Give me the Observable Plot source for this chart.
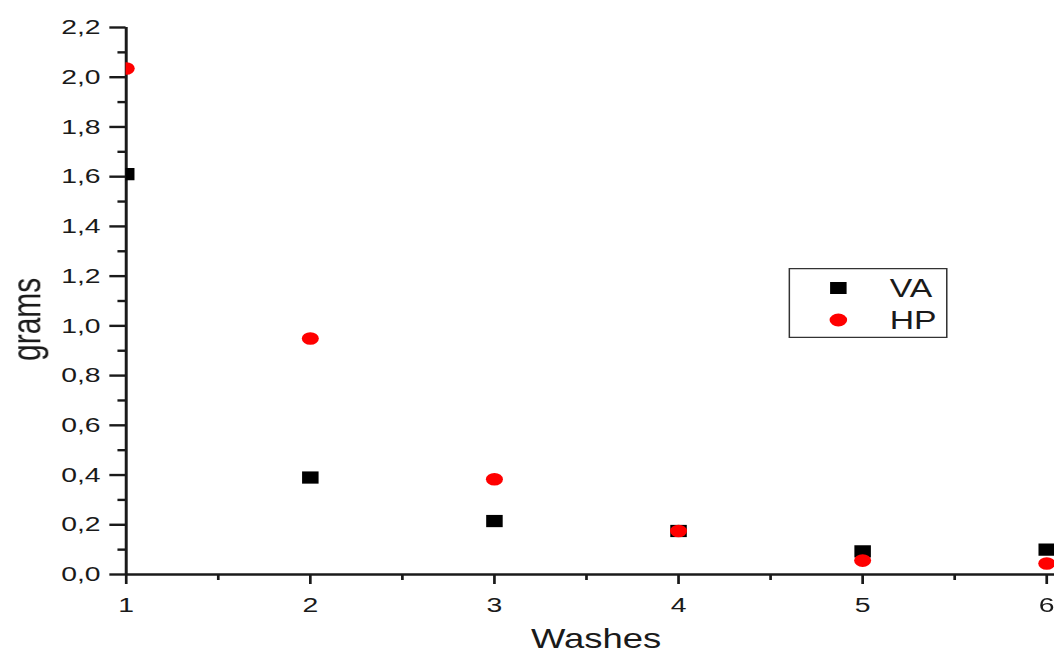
<!DOCTYPE html>
<html>
<head>
<meta charset="utf-8">
<script src="https://cdn.jsdelivr.net/npm/d3@7"></script>
<script src="https://cdn.jsdelivr.net/npm/@observablehq/plot@0.6"></script>
<style>
  html, body { margin: 0; padding: 0; background: #fff; overflow: hidden; }
  /* the chart is drawn narrow and widened, giving the oval markers and wide lettering */
  #wrap { position: relative; width: 781px; height: 657px; transform: scaleX(1.35); transform-origin: 0 0; }
  #legend { position: absolute; left: 584px; top: 268px; }
</style>
</head>
<body>
<div id="wrap"><div id="chart"></div><svg id="legend" width="118" height="70"></svg></div>
<script>
// Mass removed per wash (grams)
const washes = [1, 2, 3, 4, 5, 6];
const vaGrams = [1.61, 0.39, 0.215, 0.175, 0.093, 0.10];
const hpGrams = [2.035, 0.949, 0.383, 0.175, 0.056, 0.044];

const seriesNames = ["VA", "HP"];
const seriesColors = ["#000000", "#ff0000"];
const seriesSymbols = ["square", "circle"];

const yTicks = [0, 0.2, 0.4, 0.6, 0.8, 1.0, 1.2, 1.4, 1.6, 1.8, 2.0, 2.2];
const yMinorTicks = [0.1, 0.3, 0.5, 0.7, 0.9, 1.1, 1.3, 1.5, 1.7, 1.9, 2.1];
const xTicks = [1, 2, 3, 4, 5, 6];
const xMinorTicks = [1.5, 2.5, 3.5, 4.5, 5.5];

const comma = d => d3.format(".1f")(d).replace(".", ",");

const va = washes.map((w, i) => ({wash: w, grams: vaGrams[i]}));
const hp = washes.map((w, i) => ({wash: w, grams: hpGrams[i]}));

const ink = "#1a1a1a";
const font = "'Liberation Sans', Arial, sans-serif";

const chart = Plot.plot({
  width: 781,
  height: 657,
  marginLeft: 93,
  marginRight: 0,
  marginTop: 27,
  marginBottom: 83,
  style: {fontFamily: font, color: ink, background: "white", overflow: "visible"},
  x: {domain: [1, 6.045]},
  y: {domain: [0, 2.2]},
  marks: [
    Plot.axisY(yTicks, {tickSize: 12, tickPadding: 7, fontSize: 21, strokeWidth: 2.4, tickFormat: comma, label: null}),
    Plot.axisY(yMinorTicks, {tickSize: 6, strokeWidth: 2.4, tickFormat: () => "", label: null}),
    Plot.axisX(xTicks, {tickSize: 10, tickPadding: 13, fontSize: 21, strokeWidth: 2, tickFormat: d3.format("d"), label: null}),
    Plot.axisX(xMinorTicks, {tickSize: 6, strokeWidth: 2, tickFormat: () => "", label: null}),
    Plot.ruleX([1], {stroke: ink, strokeWidth: 2.2}),
    Plot.ruleY([0], {stroke: ink, strokeWidth: 2.6}),
    Plot.dot(va, {x: "wash", y: "grams", symbol: seriesSymbols[0], r: 6.9, fill: seriesColors[0], stroke: "none", clip: true}),
    Plot.dot(hp, {x: "wash", y: "grams", symbol: seriesSymbols[1], r: 6.3, fill: seriesColors[1], stroke: "none", clip: true}),
    Plot.text(["grams"], {frameAnchor: "left", dx: -73, dy: 60, rotate: -90, fontSize: 30, fill: ink}),
    Plot.text(["Washes"], {frameAnchor: "bottom", dx: 4, dy: 73, fontSize: 27, fill: ink})
  ]
});
document.getElementById("chart").append(chart);

// Legend box with one marker and name per series
const legend = d3.select("#legend");
legend.append("rect")
  .attr("x", 0.6).attr("y", 0.6).attr("width", 116.8).attr("height", 68.8)
  .attr("fill", "white").attr("stroke", "#333").attr("stroke-width", 1.3);
const sizes = [6.9, 6.5];
seriesNames.forEach((name, i) => {
  const cy = 20 + i * 32;
  const sym = i === 0 ? d3.symbolSquare : d3.symbolCircle;
  legend.append("path")
    .attr("transform", `translate(37,${cy})`)
    .attr("d", d3.symbol(sym, Math.PI * sizes[i] * sizes[i])())
    .attr("fill", seriesColors[i]);
  legend.append("text")
    .attr("x", 75).attr("y", cy + 9)
    .attr("font-family", font).attr("font-size", 25).attr("fill", ink)
    .text(name);
});
</script>
</body>
</html>
